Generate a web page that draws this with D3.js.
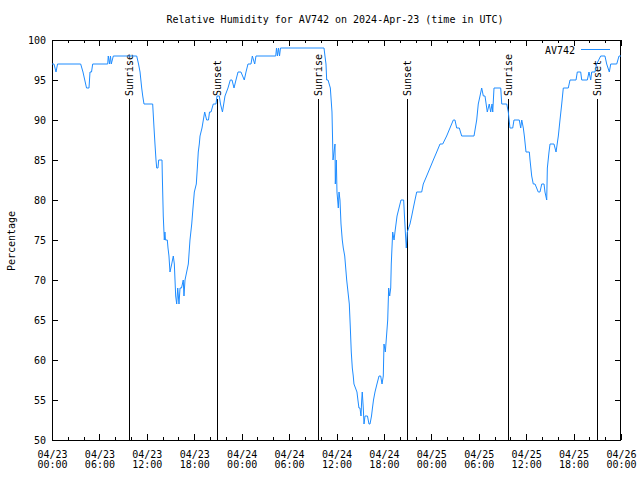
<!DOCTYPE html>
<html>
<head>
<meta charset="utf-8">
<script src="https://cdn.jsdelivr.net/npm/d3@7"></script>
<style>
  body { margin: 0; background: #fff; }
  text { font-family: "DejaVu Sans Mono", monospace; font-size: 10px; fill: #000; }
</style>
</head>
<body>
<svg width="640" height="480"></svg>
<script>
// hours since 2024-04-23 00:00 UTC
const hours = [0.00, 0.25, 0.51, 0.70, 3.63, 3.92, 4.37, 4.68, 4.81, 5.00, 5.15, 7.05, 7.12, 7.28, 7.40, 7.50, 7.76,
  10.72, 10.95, 11.14, 11.35, 11.48, 11.64, 12.74, 12.91, 13.03, 13.16, 13.25, 13.41, 13.50, 13.92, 13.96, 14.08,
  14.21, 14.29, 14.36, 14.59, 14.68, 14.80, 14.93, 15.15, 15.35, 15.48, 15.65, 15.78, 15.91, 16.07, 16.20, 16.39,
  16.61, 16.70, 16.83, 17.25, 17.46, 17.68, 17.84, 18.01, 18.26, 18.39, 18.51, 18.64, 18.73, 18.98, 19.15, 19.32,
  19.57, 19.80, 19.93, 20.12, 20.41, 20.75, 20.88, 21.17, 21.32, 21.57, 21.89, 22.27, 22.56, 22.78, 23.03, 23.28,
  23.54, 23.91, 24.33, 24.55, 24.80, 25.18, 25.35, 25.65, 25.81, 28.31, 28.41, 28.53, 28.66, 28.79, 28.91, 34.42,
  34.54, 34.67, 34.76, 34.93, 35.22, 35.43, 35.56, 35.81, 35.85, 35.98, 36.06, 36.23, 36.32, 36.44, 36.57, 36.73,
  36.86, 37.04, 37.29, 37.62, 37.75, 37.87, 38.00, 38.12, 38.21, 38.59, 38.71, 38.84, 38.97, 39.10, 39.19, 39.26,
  39.39, 39.48, 39.61, 39.92, 40.11, 40.24, 40.43, 40.55, 40.68, 40.87, 41.12, 41.38, 41.59, 41.76, 41.92, 42.01,
  42.18, 42.48, 42.60, 42.73, 42.86, 42.93, 43.11, 43.28, 43.40, 43.66, 43.91, 44.16, 44.50, 44.60, 44.71, 44.83,
  44.96, 45.30, 45.52, 45.72, 45.93, 46.15, 46.78, 46.98, 47.41, 47.83, 48.25, 48.68, 49.10, 49.44, 49.94, 50.36,
  50.78, 50.99, 51.21, 51.54, 51.84, 53.40, 53.74, 53.94, 54.16, 54.37, 54.58, 54.79, 55.08, 55.33, 55.51, 55.68,
  55.77, 55.93, 56.78, 56.91, 57.54, 57.74, 57.95, 58.30, 58.46, 59.13, 59.31, 59.44, 59.64, 59.77, 59.98, 60.40,
  60.49, 60.70, 60.90, 61.12, 61.53, 61.75, 61.97, 62.26, 62.38, 62.60, 62.68, 62.89, 63.02, 63.52, 63.78, 64.07,
  64.28, 64.50, 64.70, 65.33, 65.55, 66.31, 66.47, 66.90, 67.03, 67.74, 67.95, 68.17, 68.29, 68.71, 68.92, 69.43,
  69.97, 70.19, 70.52, 70.70, 71.46, 71.75, 72.00];
const humidity = [97, 97, 96, 97, 97, 96, 94, 94, 96, 96, 97, 97, 98, 97, 98, 97, 98,
  98, 97, 96, 94, 93, 92, 92, 89, 87, 85, 84, 84, 85, 85, 83, 78,
  75, 76, 75, 75, 74, 73, 71, 72, 73, 72, 68, 67, 69, 67, 69, 69,
  70, 68, 70, 72, 75, 77, 79, 81, 82, 84, 86, 87, 88, 89, 90, 91,
  90, 90, 91, 91, 92, 92, 93, 93, 92, 91, 93, 94, 95, 95, 94, 95,
  96, 96, 95, 96, 97, 97, 98, 97, 98, 98, 99, 98, 99, 98, 99, 99,
  98, 97, 95, 95, 94, 91, 85, 87, 82, 85, 81, 79, 81, 80, 77, 75,
  74, 73, 70, 67, 64, 61, 59, 58, 57, 56, 55, 54, 54, 53, 55, 56,
  54, 52, 53, 53, 52, 52, 53, 54, 55, 56, 57, 58, 58, 57, 58, 62,
  61, 65, 69, 68, 69, 72, 76, 75, 76, 78, 79, 80, 80, 78, 76, 74,
  76, 77, 78, 79, 80, 81, 81, 82, 83, 84, 85, 86, 87, 87, 88, 89,
  90, 90, 89, 89, 88, 88, 90, 92, 93, 94, 93, 93, 91, 92, 91, 92,
  91, 94, 94, 92, 92, 91, 89, 89, 90, 90, 89, 90, 89, 88, 86, 86,
  85, 83, 82, 82, 81, 81, 82, 82, 81, 80, 84, 86, 87, 87, 86, 88,
  90, 92, 94, 94, 95, 95, 96, 96, 95, 95, 96, 95, 96, 96, 97, 98,
  98, 97, 96, 97, 97, 98, 98];

const sunrise = [9.77, 33.72, 57.72];
const sunset = [20.92, 44.88, 68.9];
const yTicks = [50, 55, 60, 65, 70, 75, 80, 85, 90, 95, 100];

const start = Date.UTC(2024, 3, 23);
const toDate = h => new Date(start + h * 3600e3);

const mLeft = 52, mRight = 621, mTop = 40, mBottom = 440;

const svg = d3.select("svg");

const x = d3.scaleUtc()
  .domain([toDate(0), toDate(72)])
  .range([mLeft, mRight]);
const y = d3.scaleLinear()
  .domain([50, 100])
  .range([mBottom, mTop]);

// title
svg.append("text")
  .attr("x", 335).attr("y", 23)
  .attr("text-anchor", "middle")
  .text("Relative Humidity for AV742 on 2024-Apr-23 (time in UTC)");

// y label
svg.append("text")
  .attr("transform", "translate(15,241) rotate(-90)")
  .attr("text-anchor", "middle")
  .text("Percentage");

// minor ticks every 2 hours, bottom and top
svg.append("g")
  .attr("transform", `translate(0,${mBottom})`)
  .call(d3.axisBottom(x).ticks(d3.utcHour.every(2)).tickSize(-3).tickFormat(""));
svg.append("g")
  .attr("transform", `translate(0,${mTop})`)
  .call(d3.axisTop(x).ticks(d3.utcHour.every(2)).tickSize(-3).tickFormat(""));

// major ticks every 6 hours
const xb = svg.append("g")
  .attr("transform", `translate(0,${mBottom})`)
  .call(d3.axisBottom(x).ticks(d3.utcHour.every(6)).tickSize(-6).tickFormat(""));
svg.append("g")
  .attr("transform", `translate(0,${mTop})`)
  .call(d3.axisTop(x).ticks(d3.utcHour.every(6)).tickSize(-6).tickFormat(""));

xb.selectAll(".tick").each(function (d) {
  const t = d3.select(this).append("text")
    .attr("text-anchor", "middle");
  t.append("tspan").attr("x", 0).attr("y", 18).text(d3.utcFormat("%m/%d")(d));
  t.append("tspan").attr("x", 0).attr("y", 28).text(d3.utcFormat("%H:%M")(d));
});

svg.append("g")
  .attr("transform", `translate(${mLeft},0)`)
  .call(d3.axisLeft(y).tickValues(yTicks).tickSize(-6).tickPadding(6));
svg.append("g")
  .attr("transform", `translate(${mRight},0)`)
  .call(d3.axisRight(y).tickValues(yTicks).tickSize(-6).tickFormat(""));

svg.selectAll(".domain").remove();
svg.selectAll(".tick line").attr("stroke", "#000").attr("shape-rendering", "crispEdges");
svg.selectAll("g").attr("font-family", null).attr("font-size", null);
svg.selectAll(".tick text").attr("fill", "#000");

// border
svg.append("rect")
  .attr("x", mLeft + 0.5).attr("y", mTop + 0.5)
  .attr("width", mRight - mLeft - 1).attr("height", mBottom - mTop)
  .attr("fill", "none").attr("stroke", "#000")
  .attr("shape-rendering", "crispEdges");

// sunrise / sunset markers
const marks = sunrise.map(h => ({ h, label: "Sunrise" }))
  .concat(sunset.map(h => ({ h, label: "Sunset" })));

svg.append("g").selectAll("line")
  .data(marks)
  .join("line")
  .attr("x1", d => Math.round(x(toDate(d.h))) + 0.5)
  .attr("x2", d => Math.round(x(toDate(d.h))) + 0.5)
  .attr("y1", y(50))
  .attr("y2", y(92.6))
  .attr("stroke", "#000")
  .attr("shape-rendering", "crispEdges");

svg.append("g").selectAll("text")
  .data(marks)
  .join("text")
  .attr("transform", d => `translate(${Math.round(x(toDate(d.h))) + 4},${y(93)}) rotate(-90)`)
  .text(d => d.label);

// humidity line
const line = d3.line()
  .x((d, i) => x(toDate(hours[i])))
  .y(d => y(d));

svg.append("path")
  .datum(humidity)
  .attr("d", line)
  .attr("fill", "none")
  .attr("stroke", "#1e8cff")
  .attr("stroke-width", 1);

// legend
svg.append("text")
  .attr("x", 575).attr("y", 54)
  .attr("text-anchor", "end")
  .text("AV742");
svg.append("line")
  .attr("x1", 581).attr("x2", 610)
  .attr("y1", 49.5).attr("y2", 49.5)
  .attr("stroke", "#1e8cff")
  .attr("shape-rendering", "crispEdges");
</script>
</body>
</html>
